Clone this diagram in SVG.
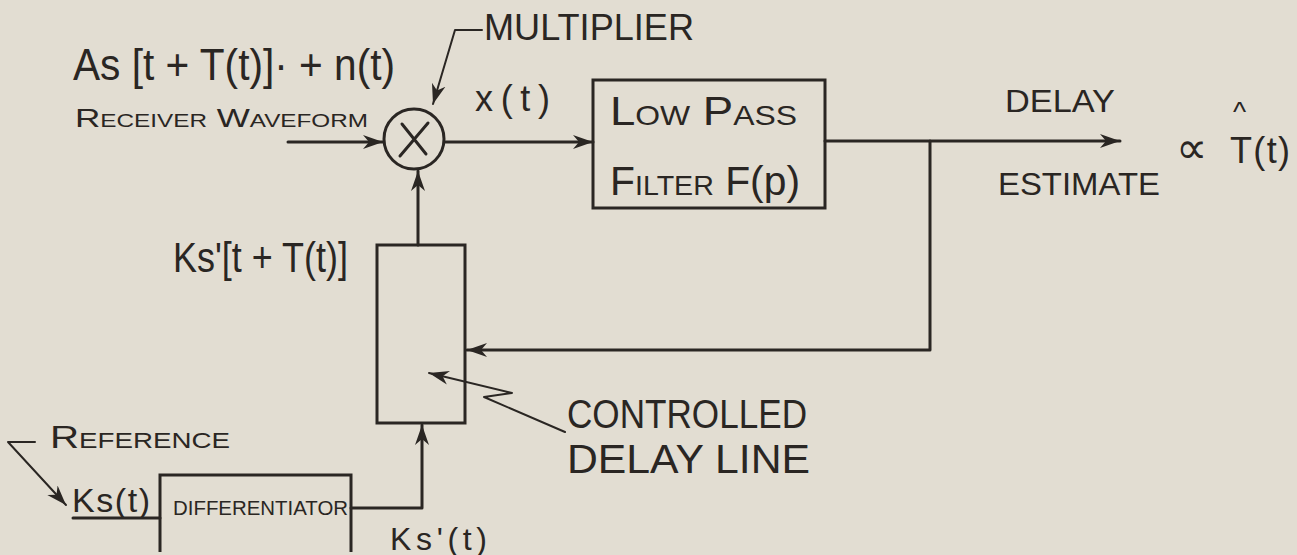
<svg xmlns="http://www.w3.org/2000/svg" width="1297" height="555" viewBox="0 0 1297 555">
<style>
.bg{fill:#e2ddd2}
.ln{fill:none;stroke:#2a2623;stroke-width:3;stroke-linecap:round;stroke-linejoin:round}
.thin{fill:none;stroke:#2a2623;stroke-width:2;stroke-linecap:round;stroke-linejoin:round}
.box{fill:none;stroke:#2a2623;stroke-width:3}
text{font-family:"Liberation Sans","DejaVu Sans",sans-serif;fill:#2a2623}
.sc{font-variant:small-caps}
</style>
<defs>
<marker id="ah" markerWidth="22" markerHeight="16" refX="20" refY="8" orient="auto" markerUnits="userSpaceOnUse">
<path d="M0,1 L20,8 L0,15 L6,8 Z" fill="#2a2623"/>
</marker>
</defs>
<rect class="bg" x="0" y="0" width="1297" height="555"/>

<g id="connectors">
<path class="ln" d="M288 142 L383 142" marker-end="url(#ah)"/>
<path class="ln" d="M445 142 L593 142" marker-end="url(#ah)"/>
<path class="ln" d="M825 141 L1120 141" marker-end="url(#ah)"/>
<path class="ln" d="M930 141 L930 350 L467 350" marker-end="url(#ah)"/>
<path class="ln" d="M418 245 L418 171" marker-end="url(#ah)"/>
<path class="ln" d="M351 508 L422 508 L422 425" marker-end="url(#ah)"/>
<path class="thin" d="M482 30 L455 30 L433 104" marker-end="url(#ah)"/>
<path class="thin" d="M35 442 L8 442 L66 505" marker-end="url(#ah)"/>
<path class="thin" d="M565 432 L484 397 L512 393 L429 373" marker-end="url(#ah)"/>
</g>

<g id="input-label">
<text x="73" y="80" font-size="44" textLength="322" lengthAdjust="spacingAndGlyphs">As [t + T(t)]· + n(t)</text>
<text x="75" y="127" font-size="26" class="sc" textLength="293" lengthAdjust="spacingAndGlyphs">Receiver Waveform</text>
</g>

<g id="multiplier">
<circle class="ln" cx="414" cy="139" r="30"/>
<path class="ln" d="M402 124 L426 154 M428 123 L400 156"/>
<text x="484" y="40" font-size="36" textLength="210" lengthAdjust="spacingAndGlyphs">MULTIPLIER</text>
</g>

<g id="xt-label">
<text x="475" y="111" font-size="36" textLength="75" lengthAdjust="spacing">x(t)</text>
</g>

<g id="low-pass-filter">
<rect class="box" x="593" y="80" width="232" height="128"/>
<text x="610" y="125" font-size="40" class="sc" textLength="187" lengthAdjust="spacingAndGlyphs">Low Pass</text>
<text x="610" y="195" font-size="40" textLength="190" lengthAdjust="spacingAndGlyphs"><tspan class="sc">Filter</tspan> F(p)</text>
</g>

<g id="output-label">
<text x="1005" y="112" font-size="32" textLength="110" lengthAdjust="spacingAndGlyphs">DELAY</text>
<text x="998" y="195" font-size="32" textLength="162" lengthAdjust="spacingAndGlyphs">ESTIMATE</text>
<text x="1176" y="163" font-size="44">∝</text>
<text x="1233" y="121" font-size="28">^</text>
<text x="1230" y="163" font-size="36" textLength="60" lengthAdjust="spacing">T(t)</text>
</g>

<g id="delay-line">
<rect class="box" x="377" y="245" width="88" height="178"/>
<text x="173" y="272" font-size="42" textLength="175" lengthAdjust="spacingAndGlyphs">Ks'[t + T(t)]</text>
<text x="567" y="428" font-size="40" textLength="240" lengthAdjust="spacingAndGlyphs">CONTROLLED</text>
<text x="567" y="473" font-size="40" textLength="243" lengthAdjust="spacingAndGlyphs">DELAY LINE</text>
</g>

<g id="reference">
<text x="50" y="448" font-size="32" class="sc" textLength="180" lengthAdjust="spacingAndGlyphs">Reference</text>
<text x="72" y="512" font-size="34" textLength="78" lengthAdjust="spacing">Ks(t)</text>
<path class="ln" d="M73 518 L160 518"/>
</g>

<g id="differentiator">
<path class="box" d="M160 552 L160 475 L351 475 L351 552"/>
<text x="173" y="515" font-size="20" textLength="175" lengthAdjust="spacingAndGlyphs">DIFFERENTIATOR</text>
<text x="390" y="550" font-size="32" textLength="97" lengthAdjust="spacing">Ks'(t)</text>
</g>
</svg>
